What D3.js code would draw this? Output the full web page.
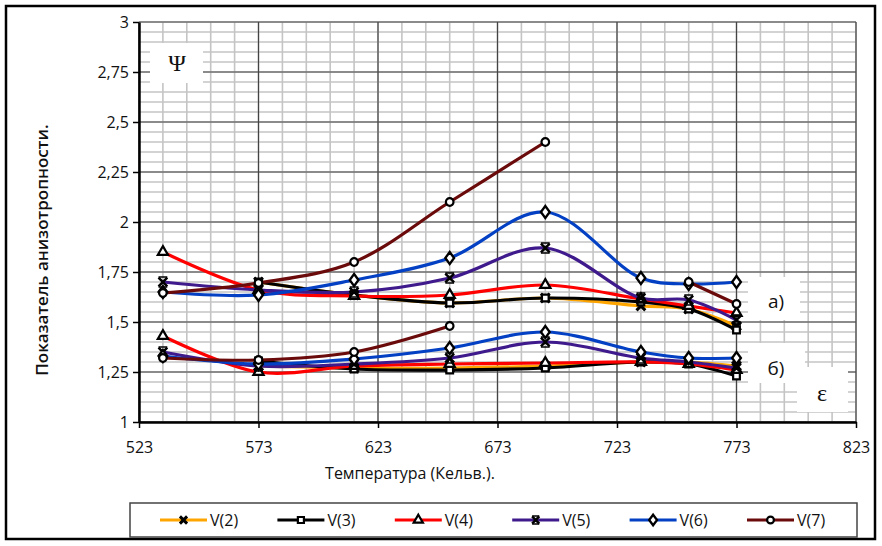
<!DOCTYPE html>
<html>
<head>
<meta charset="utf-8">
<script src="https://cdn.jsdelivr.net/npm/d3@7"></script>
<style>
  body { margin: 0; background: #fff; }
  text { font-family: "Open Sans", "Noto Sans", sans-serif; }
</style>
</head>
<body>
<div id="main"></div>
<script>
// temperatures (K)
const temps = [533, 573, 613, 653, 693, 733, 753, 773]
const xTicks = [523, 573, 623, 673, 723, 773, 823]
const yTicks = [1, 1.25, 1.5, 1.75, 2, 2.25, 2.5, 2.75, 3]
const names = ["V(2)", "V(3)", "V(4)", "V(5)", "V(6)", "V(7)"]
const colors = ["#ffa500", "#000000", "#ff0000", "#3f1a8c", "#0340c4", "#6b0a0a"]
const shapes = ["x", "square", "triangle", "star", "diamond", "circle"]

// group а) (upper)
const upperV2 = [null, 1.70, 1.635, 1.595, 1.62, 1.58, 1.565, 1.48]
const upperV3 = [null, 1.70, 1.635, 1.595, 1.62, 1.60, 1.565, 1.46]
const upperV4 = [1.85, 1.66, 1.63, 1.635, 1.685, 1.615, 1.58, 1.545]
const upperV5 = [1.70, 1.66, 1.65, 1.72, 1.87, 1.62, 1.61, 1.51]
const upperV6 = [1.65, 1.635, 1.71, 1.82, 2.05, 1.72, 1.69, 1.70]
const upperV7 = [1.645, 1.695, 1.80, 2.10, 2.40, null, 1.70, 1.59]
// group б) (lower)
const lowerV2 = [null, 1.28, 1.27, 1.27, 1.28, 1.30, 1.30, 1.28]
const lowerV3 = [null, 1.305, 1.265, 1.26, 1.27, 1.30, 1.29, 1.23]
const lowerV4 = [1.43, 1.25, 1.28, 1.29, 1.295, 1.30, 1.29, 1.26]
const lowerV5 = [1.35, 1.28, 1.29, 1.32, 1.40, 1.32, 1.30, 1.27]
const lowerV6 = [1.33, 1.29, 1.315, 1.37, 1.45, 1.35, 1.32, 1.32]
const lowerV7 = [1.32, 1.31, 1.35, 1.48, null, null, null, null]

const upper = [upperV2, upperV3, upperV4, upperV5, upperV6, upperV7]
const lower = [lowerV2, lowerV3, lowerV4, lowerV5, lowerV6, lowerV7]

let W = 882, H = 546
let svg = d3.select("#main").append("svg").attr("width", W).attr("height", H)

svg.append("rect").attr("x", 6).attr("y", 6).attr("width", 869).attr("height", 533)
    .attr("fill", "#fff").attr("stroke", "#000").attr("stroke-width", 2.5)

let scX = d3.scaleLinear().domain([523, 823]).range([139, 856])
let scY = d3.scaleLinear().domain([1, 3]).range([422, 22])

// minor grid
let grid = svg.append("g")
d3.range(523, 824, 10).forEach(v => {
    grid.append("line").attr("x1", scX(v)).attr("x2", scX(v)).attr("y1", scY(1)).attr("y2", scY(3))
        .attr("stroke", "#c4c4c4").attr("stroke-width", 1.6)
})
d3.range(1, 3.001, 0.05).forEach(v => {
    grid.append("line").attr("x1", scX(523)).attr("x2", scX(823)).attr("y1", scY(v)).attr("y2", scY(v))
        .attr("stroke", "#c4c4c4").attr("stroke-width", 1.6)
})
// major grid
xTicks.forEach(v => {
    grid.append("line").attr("x1", scX(v)).attr("x2", scX(v)).attr("y1", scY(1)).attr("y2", scY(3))
        .attr("stroke", "#444").attr("stroke-width", 1.2)
})
yTicks.forEach(v => {
    grid.append("line").attr("x1", scX(523)).attr("x2", scX(823)).attr("y1", scY(v)).attr("y2", scY(v))
        .attr("stroke", "#444").attr("stroke-width", 1.2)
})

// label boxes covering the grid
function box(x, y, w, h, txt, tx, ty, serif) {
    svg.append("rect").attr("x", x).attr("y", y).attr("width", w).attr("height", h).attr("fill", "#fff")
    svg.append("text").attr("x", tx).attr("y", ty).attr("text-anchor", "middle")
        .style("font-family", serif ? "'Liberation Serif', 'DejaVu Serif', serif" : null)
        .attr("font-size", serif ? 24 : 19).attr("fill", "#111").text(txt)
}
box(150, 43, 53, 40, "Ψ", 177, 71, true)
box(748, 277, 52, 43, "а)", 776, 308, false)
box(748, 343, 57, 40, "б)", 776, 375, false)
box(797, 367, 51, 45, "ε", 822, 401, true)

// axes
let fmt = d => String(d).replace(".", ",")
svg.append("g").attr("transform", `translate(0, ${scY(1)})`)
    .call(d3.axisBottom(scX).tickValues(xTicks).tickSize(6).tickSizeOuter(0).tickPadding(14))
    .call(g => g.select(".domain").attr("stroke-width", 2.5))
    .call(g => g.selectAll(".tick line").attr("stroke-width", 1.5))
    .call(g => g.selectAll("text").attr("font-size", 16).attr("fill", "#111"))
svg.append("g").attr("transform", `translate(${scX(523)}, 0)`)
    .call(d3.axisLeft(scY).tickValues(yTicks).tickFormat(fmt).tickSize(6).tickSizeOuter(0).tickPadding(4))
    .call(g => g.select(".domain").attr("stroke-width", 2.5))
    .call(g => g.selectAll(".tick line").attr("stroke-width", 1.5))
    .call(g => g.selectAll("text").attr("font-size", 16).attr("fill", "#111"))

svg.append("text").attr("x", 410).attr("y", 479).attr("text-anchor", "middle")
    .attr("font-size", 16).attr("fill", "#111").text("Температура (Кельв.).")
svg.append("text").attr("transform", `translate(48, 250) rotate(-90)`).attr("text-anchor", "middle")
    .attr("font-size", 17).attr("font-weight", 600).attr("fill", "#111").text("Показатель анизотропности.")

// markers
function marker(g, shape, x, y, s) {
    if (shape == "x" || shape == "star") {
        let d = s * 0.55
        g.append("path").attr("d", `M${x - d},${y - d}L${x + d},${y + d}M${x - d},${y + d}L${x + d},${y - d}`)
            .attr("stroke", "#000").attr("stroke-width", shape == "x" ? 3 : 2.5)
        if (shape == "star") {
            g.append("path").attr("d", `M${x - d},${y - d - 0.5}L${x + d},${y - d - 0.5}M${x - d},${y + d + 0.5}L${x + d},${y + d + 0.5}`)
                .attr("stroke", "#000").attr("stroke-width", 1.5)
        }
        return
    }
    let sym = {square: d3.symbolSquare, triangle: d3.symbolTriangle, diamond: d3.symbolDiamond, circle: d3.symbolCircle}[shape]
    let area = {square: 45, triangle: 45, diamond: 50, circle: 45}[shape]
    g.append("path").attr("d", d3.symbol(sym, area * s / 8)())
        .attr("transform", `translate(${x},${y})` + (shape == "diamond" ? " scale(1.15,0.9)" : ""))
        .attr("fill", "#fff").attr("stroke", "#000").attr("stroke-width", 2.2)
}

let makeLine = d3.line()
    .defined(d => d[1] != null)
    .x(d => scX(d[0]))
    .y(d => scY(d[1]))
    .curve(d3.curveCatmullRom.alpha(0.5))

;[upper, lower].forEach(group => {
    group.forEach((vals, idx) => {
        let pts = temps.map((t, i) => [t, vals[i]])
        svg.append("path").attr("d", makeLine(pts)).attr("fill", "none")
            .attr("stroke", colors[idx]).attr("stroke-width", 3.2)
    })
})
;[upper, lower].forEach(group => {
    group.forEach((vals, idx) => {
        let g = svg.append("g")
        temps.forEach((t, i) => {
            if (vals[i] != null) marker(g, shapes[idx], scX(t), scY(vals[i]), 8)
        })
    })
})

// legend
svg.append("rect").attr("x", 130).attr("y", 503).attr("width", 727).attr("height", 34)
    .attr("fill", "#fff").attr("stroke", "#444").attr("stroke-width", 1.5)
names.forEach((name, idx) => {
    let x0 = 160 + idx * 117.4
    let g = svg.append("g")
    g.append("line").attr("x1", x0).attr("x2", x0 + 47).attr("y1", 520).attr("y2", 520)
        .attr("stroke", colors[idx]).attr("stroke-width", 3.2)
    marker(g, shapes[idx], x0 + 23.5, 520, 6.5)
    g.append("text").attr("x", x0 + 50).attr("y", 526).attr("font-size", 16).attr("fill", "#111").text(name)
})
</script>
</body>
</html>
